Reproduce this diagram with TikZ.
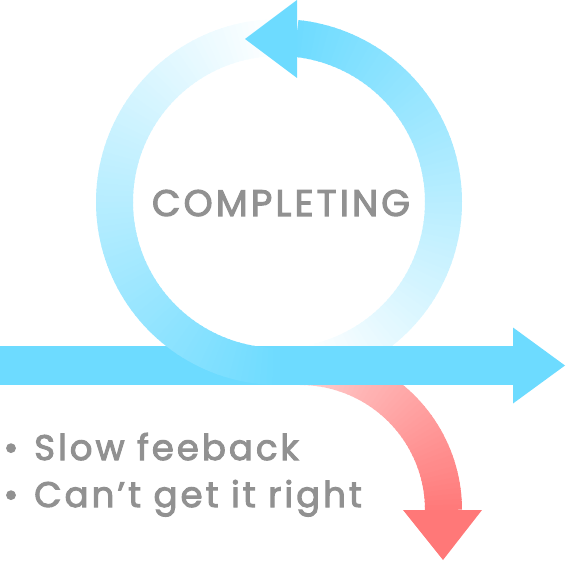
\documentclass[tikz,border=0pt]{standalone}
\usepackage{fontspec}
\setmainfont{Poppins}
\newfontfamily\titlefont{Poppins}[LetterSpace=8.5, FakeBold=2.8]
\newfontfamily\listfont{Poppins}[LetterSpace=8.5, FakeBold=2.8]
\definecolor{cblue}{RGB}{109,219,255}
\definecolor{cred}{RGB}{255,120,120}
\definecolor{cgray}{RGB}{145,145,145}
\tikzset{
  ringseg/.style={line width=37pt},
  redseg/.style={line width=37pt},
  label/.style={inner sep=0pt, text=cgray},
}
\begin{document}
\begin{tikzpicture}[x=1pt,y=1pt]
\useasboundingbox (0,0) rectangle (567,563);
% loop ring, right half (fading in from the bottom), behind the bar
\foreach \a in {270,272,...,442}{
  \pgfmathsetmacro{\p}{max(0,(\a-280)/164*100)}
  \pgfmathsetmacro{\e}{min(\a+2.5,444)}
  \draw[ringseg, draw=cblue!\p!white] (279,361) ++(\a:164.5) arc[start angle=\a, end angle=\e, radius=164.5];
}
% red curved arrow, behind the bar
\foreach \a in {90,88,...,2}{
  \pgfmathsetmacro{\p}{35+65*(90-\a)/90}
  \pgfmathsetmacro{\e}{max(\a-2.5,0)}
  \draw[redseg, draw=cred!\p!white] (300,53) ++(\a:143.5) arc[start angle=\a, end angle=\e, radius=143.5];
}
\fill[cred] (403,53) -- (482,53) -- (443,3) -- cycle;
% horizontal bar
\fill[cblue] (0,178) rectangle (514,217);
\fill[cblue] (513,235.5) -- (565,197.5) -- (513,159.5) -- cycle;
% loop ring, left half (fading in from the top), over the bar
\foreach \a in {90,92,...,268}{
  \pgfmathsetmacro{\p}{(\a-90)/180*100}
  \pgfmathsetmacro{\e}{\a+2.5}
  \draw[ringseg, draw=cblue!\p!white] (279,361) ++(\a:164.5) arc[start angle=\a, end angle=\e, radius=164.5];
}
% top arrowhead
\fill[cblue] (245,524) -- (297,563) -- (297,485) -- cycle;
% texts
\node[label, font=\titlefont\fontsize{37}{40}\selectfont, anchor=base] (title) at (281,347) {COMPLETING};
\node[label, font=\listfont\fontsize{35.5}{40}\selectfont, anchor=base] (d1) at (11,103) {•};
\node[label, font=\listfont\fontsize{35.5}{40}\selectfont, anchor=base west] (b1) at (34,103) {Slow feeback};
\node[label, font=\listfont\fontsize{35.5}{40}\selectfont, anchor=base] (d2) at (11,56) {•};
\node[label, font=\listfont\fontsize{35.5}{40}\selectfont, anchor=base west] (b2) at (34,56) {Can’t get it right};
\end{tikzpicture}
\end{document}
